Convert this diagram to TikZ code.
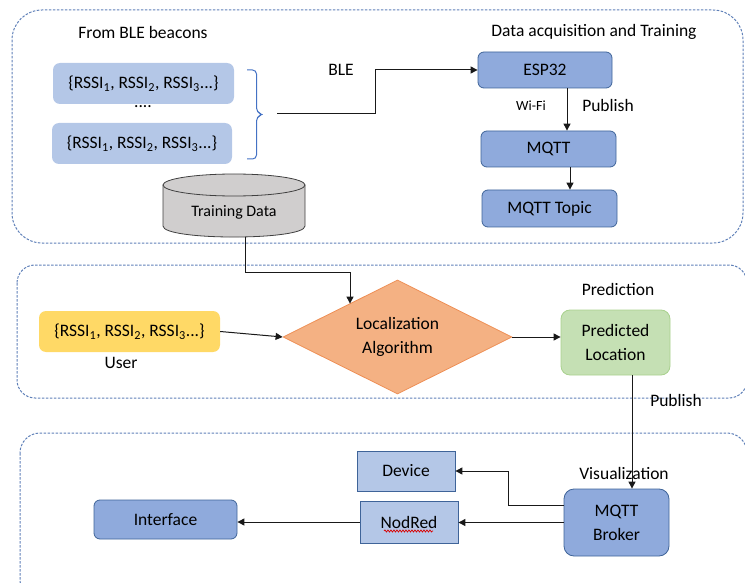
\documentclass[tikz,border=0pt]{standalone}
\usepackage{fontspec}
\setmainfont{Carlito}
\usetikzlibrary{arrows.meta,shapes.geometric,decorations.pathreplacing,decorations.pathmorphing}
\definecolor{lblue}{HTML}{B4C7E7}
\definecolor{mblue}{HTML}{8FAADC}
\definecolor{bblue}{HTML}{3F6499}
\definecolor{dashc}{HTML}{5F80B8}
\definecolor{cylf}{HTML}{D0CECE}
\definecolor{orf}{HTML}{F4B183}
\definecolor{orb}{HTML}{EE8F55}
\definecolor{yel}{HTML}{FFD966}
\definecolor{grf}{HTML}{C5E0B4}
\definecolor{grb}{HTML}{A9D18E}
\definecolor{brc}{HTML}{4472C4}
\begin{document}
\begin{tikzpicture}[x=1pt,y=-1pt,
  font=\fontsize{17.5}{20}\selectfont,
  region/.style={draw=dashc, line width=1pt, dash pattern=on 2.5pt off 1.5pt},
  lbox/.style={fill=lblue, rounded corners=7pt, inner sep=0pt},
  mbox/.style={fill=mblue, draw=bblue, line width=0.8pt, rounded corners=6pt, inner sep=0pt},
  sbox/.style={fill=lblue, draw=bblue, line width=0.8pt, inner sep=0pt},
  lbl/.style={inner sep=0pt},
  arr/.style={draw=black!90, line width=1pt, -{Triangle[width=7pt,length=7pt]}},
  ln/.style={draw=black!90, line width=1pt}]
\useasboundingbox (0,0) rectangle (745,583);
% regions
\draw[region, rounded corners=30pt] (12,10) rectangle (743,243);
\draw[region, rounded corners=18pt] (17,265) rectangle (747,398);
\draw[region, rounded corners=20pt] (20,433) rectangle (747,600);
% top region
\node[lbl] (hdr1) at (143,32) {From BLE beacons};
\node[lbox, minimum width=181pt, minimum height=41pt] (r1) at (143.5,83.5) {\{RSSI\textsubscript{1}, RSSI\textsubscript{2}, RSSI\textsubscript{3}...\}};
\node[lbl] (dots) at (143,107) {....};
\node[lbox, minimum width=180pt, minimum height=41pt] (r2) at (142,143.5) {\{RSSI\textsubscript{1}, RSSI\textsubscript{2}, RSSI\textsubscript{3}...\}};
\draw[draw=brc, line width=1pt, rounded corners=4pt] (247,70) -- (256.5,70) -- (256.5,112) -- (263,114.5) -- (256.5,117) -- (256.5,159) -- (247,159);
\coordinate (bl) at (277,114);
\node[lbl] (ble) at (341,70) {BLE};
\node[lbl] (hdr2) at (594,32) {Data acquisition and Training};
\node[mbox, minimum width=134pt, minimum height=36pt] (esp) at (545,70) {ESP32};
\node[mbox, minimum width=135pt, minimum height=36pt] (mqtt) at (548.5,149) {MQTT};
\node[mbox, minimum width=135pt, minimum height=37pt] (topic) at (549.5,208.5) {MQTT Topic};
\node[lbl, font=\fontsize{14}{16}\selectfont] (wifi) at (531,106) {Wi-Fi};
\node[lbl] (pub1) at (608,105) {Publish};
% cylinder
\node[minimum width=142pt, minimum height=64pt, inner sep=0pt] (td) at (234,205) {};
\draw[fill=cylf, draw=black!75, line width=0.8pt] (163,185) -- (163,226) .. controls (163,240.7) and (305,240.7) .. (305,226) -- (305,185) -- cycle;
\draw[fill=cylf, draw=black!75, line width=0.8pt] (234,185) ellipse [x radius=71pt, y radius=11pt];
\node[lbl, font=\fontsize{16}{18}\selectfont] (tdl) at (234,212) {Training Data};
% middle region
\node[lbox, fill=yel, minimum width=181pt, minimum height=41pt] (u) at (129.5,331.5) {\{RSSI\textsubscript{1}, RSSI\textsubscript{2}, RSSI\textsubscript{3}...\}};
\node[lbl] (user) at (121,363) {User};
\node[diamond, aspect=2, fill=orf, draw=orb, line width=0.8pt, minimum width=229pt, minimum height=114pt, inner sep=0pt, align=center] (alg) at (397.5,337) {Localization\\[4pt]Algorithm};
\node[fill=grf, draw=grb, line width=0.8pt, rounded corners=9pt, minimum width=109pt, minimum height=65pt, inner sep=0pt, align=center] (pred) at (615.5,342.5) {Predicted\\[4pt]Location};
\node[lbl] (predh) at (618,289) {Prediction};
\node[lbl] (pub2) at (676,400) {Publish};
% bottom region
\node[lbl] (vis) at (624,473) {Visualization};
\node[mbox, rounded corners=10pt, minimum width=105pt, minimum height=67pt, align=center] (br) at (616.5,522.5) {MQTT\\[4pt]Broker};
\node[sbox, minimum width=98pt, minimum height=40pt] (dev) at (406,471) {Device};
\node[sbox, minimum width=98pt, minimum height=42pt] (nr) at (409,522) {NodRed};
\draw[red!85!black, line width=0.7pt, decorate, decoration={snake, amplitude=1pt, segment length=3pt}] ([xshift=-25pt,yshift=-9pt]nr.center) -- ([xshift=24pt,yshift=-9pt]nr.center);
\node[mbox, minimum width=143pt, minimum height=39pt] (ifc) at (165.5,519.5) {Interface};
% connectors
\draw[arr] (bl) -- (375,114) |- (esp.west);
\draw[arr] ([xshift=22pt]esp.south) -- ([xshift=18.5pt]mqtt.north);
\draw[arr] ([xshift=21.5pt]mqtt.south) -- ([xshift=20.5pt]topic.north);
\draw[arr] ([xshift=11pt]td.south) -- (245,272) -| ([xshift=-47.5pt,yshift=-24pt]alg.north);
\draw[arr] (u.east) -- (alg.west);
\draw[arr] (alg.east) -- (alg.east -| pred.west);
\draw[arr] ([xshift=16.5pt]pred.south) -- ([xshift=15.5pt]br.north);
\draw[arr] ([yshift=17pt]br.west) -- (508,505.5) |- (dev.east);
\draw[arr] (br.west) -- (br.west -| nr.east);
\draw[arr] (nr.west) -- (nr.west -| ifc.east);
\end{tikzpicture}
\end{document}
